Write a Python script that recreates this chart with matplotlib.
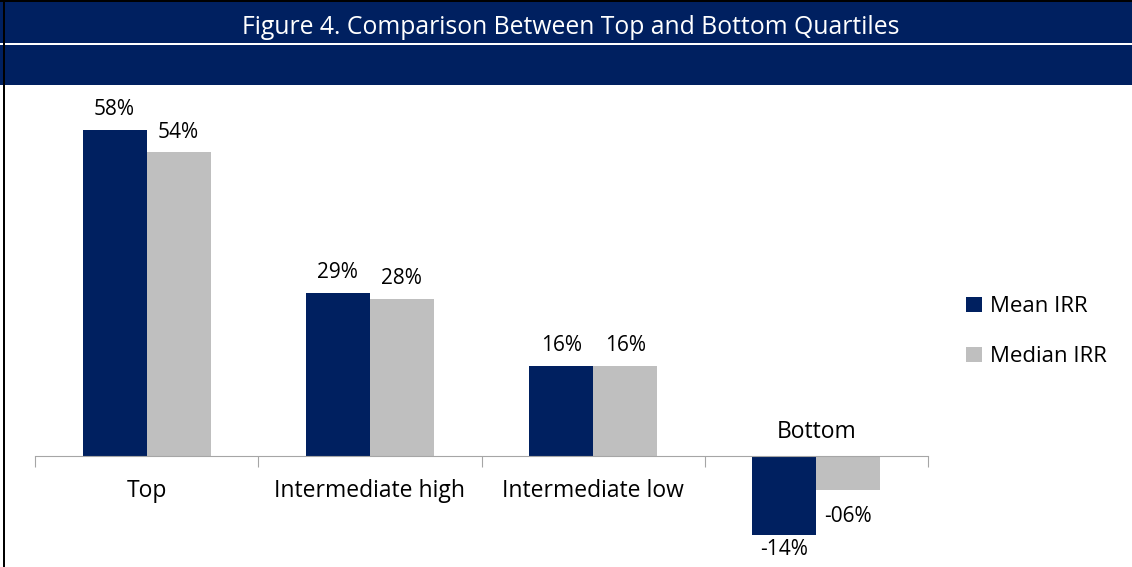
import matplotlib
matplotlib.use("Agg")
import numpy as np
from matplotlib import pyplot as plt
from matplotlib.patches import Rectangle

categories = ["Top", "Intermediate high", "Intermediate low", "Bottom"]
mean_irr = [58, 29, 16, -14]
median_irr = [54, 28, 16, -6]
series_names = ["Mean IRR", "Median IRR"]

navy = "#002060"
grey = "#BFBFBF"

plt.rcParams["font.family"] = ["Open Sans", "DejaVu Sans"]

W, H = 1132, 567
fig = plt.figure(figsize=(W / 100, H / 100), dpi=100)

# header band
fig.patches.append(Rectangle((0, 1 - 85 / H), 1, 83 / H, transform=fig.transFigure,
                             facecolor=navy, edgecolor="none", zorder=0))
fig.patches.append(Rectangle((0, 1 - 45 / H), 1, 2 / H, transform=fig.transFigure,
                             facecolor="white", edgecolor="none", zorder=1))
fig.patches.append(Rectangle((0, 1 - 2 / H), 1, 2 / H, transform=fig.transFigure,
                             facecolor="black", edgecolor="none", zorder=1))
fig.patches.append(Rectangle((3 / W, 0), 2 / W, 1, transform=fig.transFigure,
                             facecolor="black", edgecolor="none", zorder=2))
fig.text(571 / W, 1 - 28 / H, "Figure 4. Comparison Between Top and Bottom Quartiles",
         color="white", fontsize=17.8, ha="center", va="center")

ax = fig.add_axes([35 / W, 0, 893 / W, 482 / H])
x = np.arange(len(categories))
w = 64 / 223
b1 = ax.bar(x - w / 2, mean_irr, w, color=navy, label=series_names[0])
b2 = ax.bar(x + w / 2, median_irr, w, color=grey, label=series_names[1])

# value labels (negative median label sits further out, as in the original)
for bars, vals, neg_off in ((b1, mean_irr, -3), (b2, median_irr, -12)):
    for bar, v in zip(bars, vals):
        xc = bar.get_x() + bar.get_width() / 2
        if v >= 0:
            ax.annotate("%d%%" % v, (xc, v), xytext=(0, 7), textcoords="offset points",
                        ha="center", va="bottom", fontsize=15)
        else:
            ax.annotate("%03d%%" % v, (xc, v), xytext=(0, neg_off), textcoords="offset points",
                        ha="center", va="top", fontsize=15)

for xi, cat, v in zip(x, categories, mean_irr):
    off = -25 if v >= 0 else 17
    ax.annotate(cat, (xi, 0), xytext=(0, off), textcoords="offset points",
                ha="center", va="center", fontsize=16.5)

ax.set_xlim(-0.5, len(categories) - 0.5)
ax.set_ylim(-19.75, 66)
for s in ("top", "right", "left"):
    ax.spines[s].set_visible(False)
ax.spines["bottom"].set_position(("data", 0))
ax.spines["bottom"].set_color("#A6A6A6")
ax.set_yticks([])
ax.set_xticks(np.arange(len(categories) + 1) - 0.5)
ax.set_xticklabels([])
ax.tick_params(axis="x", length=8, color="#A6A6A6", direction="out")
ax.patch.set_alpha(0)

fig.legend(handles=[b1, b2], loc="upper left", bbox_to_anchor=(962 / W, 1 - 292 / H),
           frameon=False, fontsize=16, handlelength=0.7, handleheight=0.7,
           handletextpad=0.35, labelspacing=1.3, borderaxespad=0, borderpad=0.2)

fig.savefig("out.png", dpi=100)
